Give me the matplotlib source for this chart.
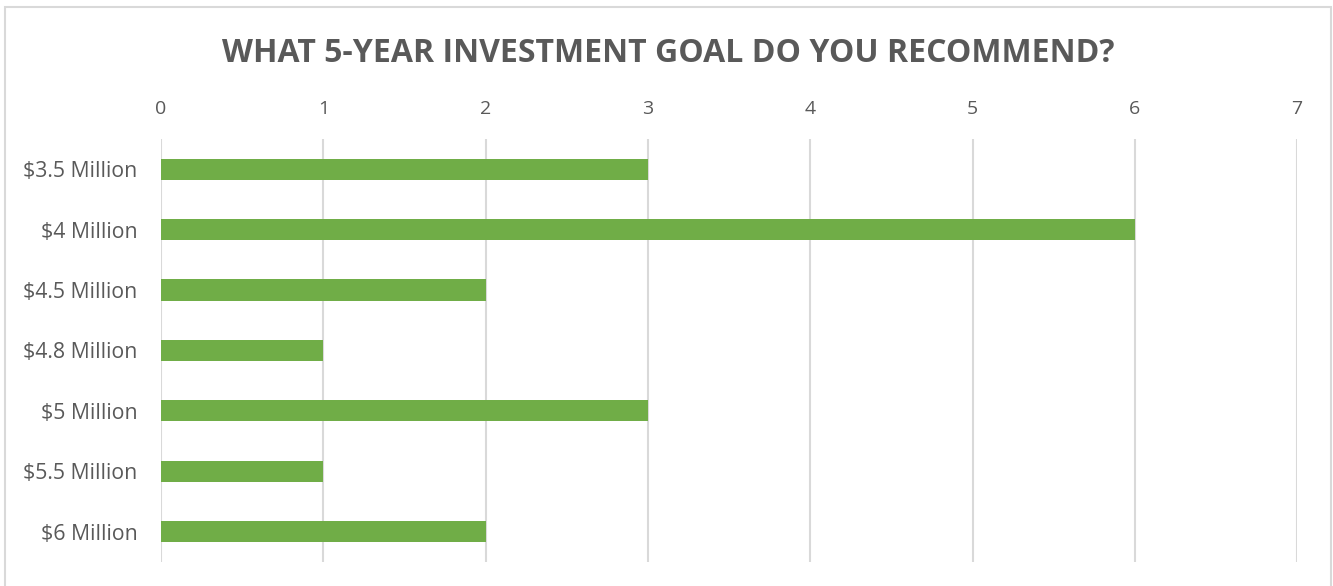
import matplotlib.pyplot as plt
from matplotlib.patches import Rectangle

# Survey responses per goal
goals = ['$3.5 Million', '$4 Million', '$4.5 Million', '$4.8 Million',
         '$5 Million', '$5.5 Million', '$6 Million']
votes = [3, 6, 2, 1, 3, 1, 2]
x_ticks = list(range(0, 8))

plt.rcParams['font.family'] = ['Open Sans', 'DejaVu Sans']
text_color = '#595959'

fig = plt.figure(figsize=(13.33, 5.86), dpi=100)
ax = fig.add_axes([0.1208, 0.041, 0.8523, 0.7218])

ax.barh(range(len(goals)), votes, height=0.35, color='#70AD47', zorder=3)

ax.set_xlim(0, 7)
ax.set_ylim(len(goals) - 0.5, -0.5)
ax.set_xticks(x_ticks)
ax.set_yticks(range(len(goals)))
ax.set_yticklabels(goals)

ax.xaxis.tick_top()
ax.tick_params(axis='x', length=0, pad=15, labelsize=14, labelcolor=text_color)
ax.tick_params(axis='y', length=0, pad=17, labelsize=15.3, labelcolor=text_color)
ax.grid(axis='x', color='#d9d9d9', linewidth=1.5, zorder=0)
for s in ax.spines.values():
    s.set_visible(False)

fig.text(0.501, 0.908, 'WHAT 5-YEAR INVESTMENT GOAL DO YOU RECOMMEND?',
         ha='center', va='center', fontsize=23, fontweight='bold', color=text_color)

# chart frame
fig.patches.append(Rectangle((5 / 1333, -0.05), 1326 / 1333, 1.05 - 7 / 586,
                             transform=fig.transFigure, fill=False,
                             edgecolor='#d9d9d9', linewidth=1.5))

fig.savefig('out.png', dpi=100)
